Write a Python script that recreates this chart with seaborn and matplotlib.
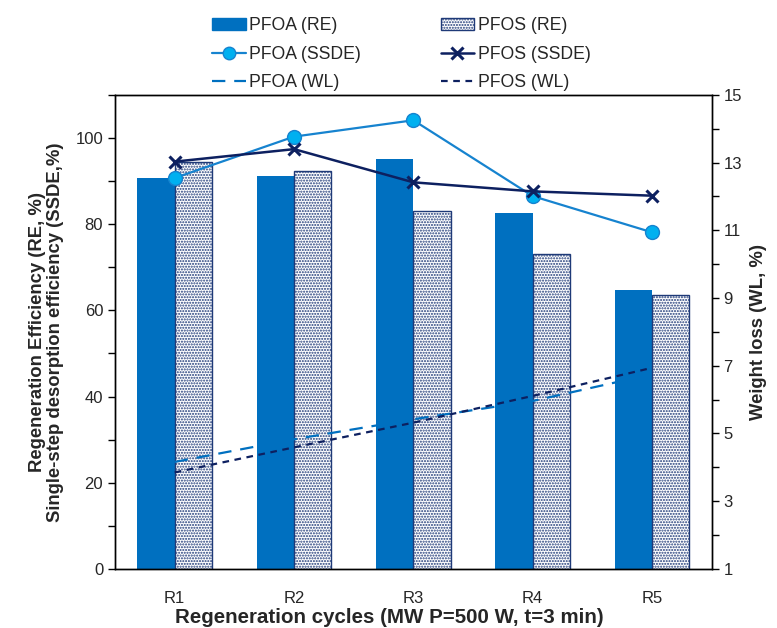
import numpy as np
import pandas as pd
import matplotlib
matplotlib.use("Agg")
import matplotlib.pyplot as plt
import seaborn as sns
from matplotlib.lines import Line2D
from matplotlib.patches import Patch
from matplotlib.ticker import MultipleLocator

cycles = ["R1", "R2", "R3", "R4", "R5"]
pfoa_re = [90.7, 91.2, 95.2, 82.7, 64.7]
pfos_re = [94.5, 92.4, 83.1, 73.0, 63.5]
pfoa_ssde = [90.7, 100.3, 104.1, 86.5, 78.1]
pfos_ssde = [94.5, 97.4, 89.7, 87.6, 86.6]
pfoa_wl = [4.16, 4.83, 5.42, 5.96, 6.75]
pfos_wl = [3.85, 4.59, 5.32, 6.11, 6.94]

BLUE = "#0070C0"
NAVY = "#1F3A78"
DARK = "#0D2060"
LIGHT = "#00B0F0"

sns.set_theme(style="white")
plt.rcParams["font.family"] = ["Liberation Sans", "DejaVu Sans"]
plt.rcParams["hatch.color"] = NAVY
plt.rcParams["hatch.linewidth"] = 1.0

df = pd.DataFrame({
    "cycle": cycles * 2,
    "value": pfoa_re + pfos_re,
    "series": ["PFOA (RE)"] * 5 + ["PFOS (RE)"] * 5,
})

fig = plt.figure(figsize=(7.77, 6.28), dpi=100)
ax = fig.add_axes([0.148, 0.094, 0.768, 0.755])

sns.barplot(data=df, x="cycle", y="value", hue="series", ax=ax,
            palette={"PFOA (RE)": BLUE, "PFOS (RE)": "white"},
            width=0.625, gap=0, legend=False, saturation=1)

n = len(cycles)
for i, p in enumerate(ax.patches[:2 * n]):
    if i >= n:
        p.set_hatch("......")
        p.set_edgecolor(NAVY)
        p.set_linewidth(1.0)
    else:
        p.set_edgecolor(BLUE)
        p.set_linewidth(0)

x = np.arange(n)
ax.plot(x, pfoa_ssde, color="#1683CF", lw=1.6, marker="o", ms=10,
        mfc=LIGHT, mec="#1683CF", mew=1.0, zorder=5)
ax.plot(x, pfos_ssde, color=DARK, lw=1.8, marker="x", ms=9, mew=2.2, zorder=5)

TICK_FS = 12
ax.set_xlim(-0.5, n - 0.5)
ax.set_ylim(0, 110)
ax.yaxis.set_minor_locator(MultipleLocator(10))
ax.set_yticks([0, 20, 40, 60, 80, 100])
ax.tick_params(axis="y", which="both", direction="out", length=5, width=1,
               color="black", labelsize=TICK_FS, left=True)
ax.tick_params(axis="x", length=0, labelsize=TICK_FS, pad=16)
for s in ax.spines.values():
    s.set_color("black")
    s.set_linewidth(1.0)

ax.set_xlabel("Regeneration cycles (MW P=500 W, t=3 min)", fontsize=14.8,
              fontweight="bold")
ax.xaxis.set_label_coords(0.46, -0.103)
ax.xaxis.label.set_va("center")
ax.set_ylabel("Regeneration Efficiency (RE, %)\nSingle-step desorption efficiency (SSDE,%)",
              fontsize=13.3, fontweight="bold", labelpad=8, linespacing=1.1)

ax2 = ax.twinx()
ax2.plot(x, pfoa_wl, color=BLUE, lw=1.6, ls=(0, (6, 4)))
ax2.plot(x, pfos_wl, color=DARK, lw=1.6, ls=(0, (3, 2.5)))
ax2.set_ylim(1, 15)
ax2.set_yticks([1, 3, 5, 7, 9, 11, 13, 15])
ax2.yaxis.set_minor_locator(MultipleLocator(1))
ax2.tick_params(axis="y", which="both", direction="out", length=5, width=1,
                color="black", labelsize=TICK_FS, right=True)
ax2.set_ylabel("Weight loss (WL, %)", fontsize=13.3, fontweight="bold", labelpad=6)
for s in ax2.spines.values():
    s.set_color("black")
    s.set_linewidth(1.0)

handles = [
    Patch(facecolor=BLUE, edgecolor=BLUE),
    Line2D([], [], color="#1683CF", lw=1.6, marker="o", ms=9, mfc=LIGHT, mec="#1683CF"),
    Line2D([], [], color=BLUE, lw=1.6, ls=(0, (6, 4))),
    Patch(facecolor="white", edgecolor=NAVY, hatch="......"),
    Line2D([], [], color=DARK, lw=1.8, marker="x", ms=9, mew=2.2),
    Line2D([], [], color=DARK, lw=1.6, ls=(0, (3, 2.5))),
]
labels = ["PFOA (RE)", "PFOA (SSDE)", "PFOA (WL)", "PFOS (RE)", "PFOS (SSDE)", "PFOS (WL)"]
fig.legend(handles, labels, ncol=2, frameon=False, fontsize=12.7,
           loc="upper left", bbox_to_anchor=(0.255, 0.995),
           columnspacing=4.5, handlelength=1.9, handletextpad=0.2,
           labelspacing=0.65, borderpad=0.3)

fig.savefig("out.png", dpi=100)
